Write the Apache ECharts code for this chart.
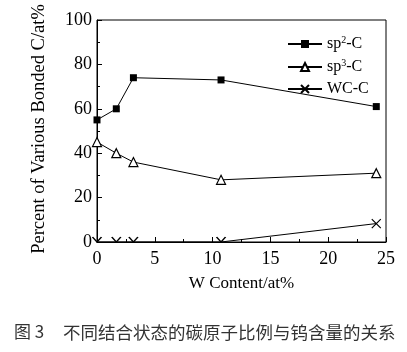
<!DOCTYPE html>
<html><head><meta charset="utf-8">
<script src="https://cdn.jsdelivr.net/npm/echarts@6/dist/echarts.min.js"></script>
<style>html,body{margin:0;padding:0;background:#fff}#c{width:407px;height:352px}</style>
</head><body><div id="c"></div>
<script>
const wContent = [0, 1.67, 3.15, 10.73, 24.16];
const sp2 = [55, 60, 74, 73, 61];
const sp3 = [45, 40, 36, 28, 31];
const wcc = [0, 0, 0, 0, 8.3];
const seriesNames = ['sp2-C', 'sp3-C', 'WC-C'];
const xTicks = [0, 5, 10, 15, 20, 25];
const yTicks = [0, 20, 40, 60, 80, 100];
const figLabel = '图 3';
const caption = '不同结合状态的碳原子比例与钨含量的关系';

const pair = (ys) => wContent.map((x, i) => [x, ys[i]]);
const chart = echarts.init(document.getElementById('c'));
const font = 'Liberation Serif';
const crossPath = 'path://M0,0L10,10M10,0L0,10';
const vPath = 'path://M0,0L5,5L10,0';
const wcData = wContent.map((x, i) => wcc[i] === 0
  ? {value: [x, wcc[i]], symbol: vPath, symbolSize: [9, 5], symbolOffset: [0, -2.5]}
  : {value: [x, wcc[i]]});
chart.setOption({
  animation: false,
  grid: {left: 97, right: 21, top: 20, bottom: 110, show: true, borderColor: '#000', borderWidth: 1},
  legend: {
    orient: 'vertical', left: 282, top: 30, itemGap: 5, itemWidth: 34, itemHeight: 10,
    data: seriesNames,
    formatter: function (n) {
      if (n === 'sp2-C') return '{a|sp}{s|2}{a|-C}';
      if (n === 'sp3-C') return '{a|sp}{s|3}{a|-C}';
      return '{a|WC-C}';
    },
    textStyle: {
      fontFamily: font, color: '#000',
      rich: {a: {fontFamily: font, fontSize: 16, color: '#000', lineHeight: 18},
             s: {fontFamily: font, fontSize: 10, color: '#000', verticalAlign: 'top', lineHeight: 18, padding: [0, 0, 8, 0]}}
    }
  },
  xAxis: {
    type: 'value', min: 0, max: 25, interval: 5,
    name: 'W Content/at%', nameLocation: 'middle', nameGap: 33,
    nameTextStyle: {fontFamily: font, fontSize: 17, color: '#000'},
    axisLine: {onZero: false, lineStyle: {color: '#000'}},
    axisTick: {inside: true, length: 5, lineStyle: {color: '#000'}},
    minorTick: {show: true, splitNumber: 2, length: 3, lineStyle: {color: '#000'}},
    splitLine: {show: false},
    axisLabel: {fontFamily: font, fontSize: 18, color: '#000', margin: 8,
      formatter: v => xTicks.includes(v) ? String(v) : ''}
  },
  yAxis: {
    type: 'value', min: 0, max: 100, interval: 20,
    name: 'Percent of Various Bonded C/at%', nameLocation: 'middle', nameGap: 48,
    nameTextStyle: {fontFamily: font, fontSize: 18.5, color: '#000', padding: [0, 0, 0, 4]},
    axisLine: {onZero: false, lineStyle: {color: '#000'}},
    axisTick: {inside: true, length: 5, lineStyle: {color: '#000'}},
    minorTick: {show: true, splitNumber: 2, length: 3, lineStyle: {color: '#000'}},
    splitLine: {show: false},
    axisLabel: {fontFamily: font, fontSize: 18, color: '#000', margin: 5,
      formatter: v => yTicks.includes(v) ? String(v) : ''}
  },
  graphic: [
    {type: 'text', left: 14, top: 323,
     style: {text: figLabel, font: '17px "Noto Sans CJK SC"', fill: '#333'}},
    {type: 'text', left: 63, top: 323.5,
     style: {text: caption, font: '17.5px "Noto Sans CJK SC"', fill: '#333'}}
  ],
  series: [
    {name: seriesNames[0], type: 'line', data: pair(sp2), symbol: 'rect', symbolSize: 7,
     lineStyle: {color: '#000', width: 1}, itemStyle: {color: '#000'}},
    {name: seriesNames[1], type: 'line', data: pair(sp3), symbol: 'triangle', symbolSize: 9,
     lineStyle: {color: '#000', width: 1}, itemStyle: {color: '#fff', borderColor: '#000', borderWidth: 1.2}},
    {name: seriesNames[2], type: 'line', data: wcData, symbol: crossPath, symbolSize: 9,
     lineStyle: {color: '#000', width: 1}, itemStyle: {color: 'none', borderColor: '#000', borderWidth: 1.2}}
  ]
});
</script></body></html>
